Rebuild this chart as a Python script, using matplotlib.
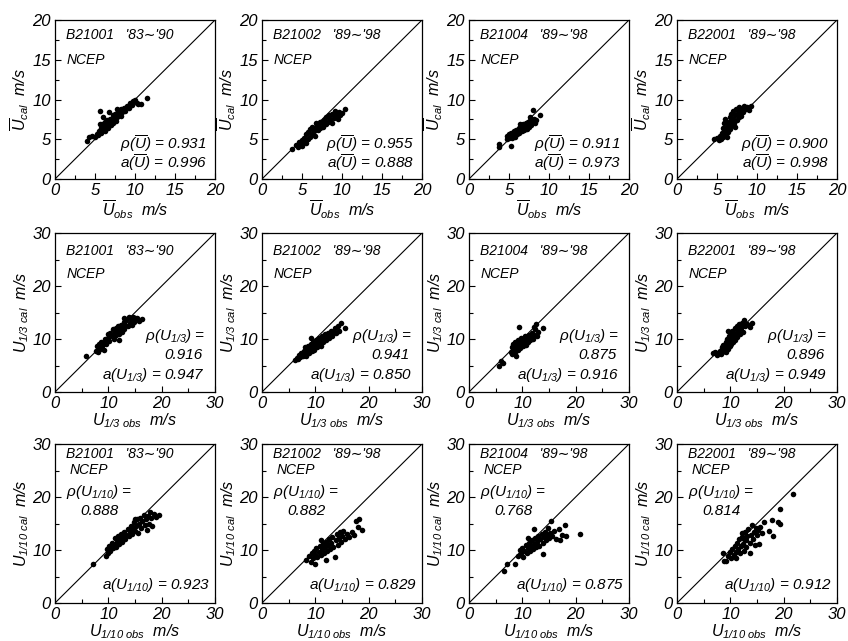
import matplotlib
matplotlib.use("Agg")
import matplotlib.pyplot as plt
from matplotlib.ticker import MultipleLocator

plt.rcParams['font.family'] = ['Liberation Sans', 'DejaVu Sans']
plt.rcParams['font.style'] = 'italic'
plt.rcParams['mathtext.fontset'] = 'custom'
plt.rcParams['mathtext.it'] = 'Liberation Sans:italic'
plt.rcParams['mathtext.rm'] = 'Liberation Sans:italic'
plt.rcParams['mathtext.sf'] = 'Liberation Sans:italic'

# station names and periods (one per column)
stations = ["B21001", "B21002", "B21004", "B22001"]
periods = ["'83\u223c'90", "'89\u223c'98", "'89\u223c'98", "'89\u223c'98"]

# statistics printed in each panel
rho_mean = ["0.931", "0.955", "0.911", "0.900"]
a_mean = ["0.996", "0.888", "0.973", "0.998"]
rho_u13 = ["0.916", "0.941", "0.875", "0.896"]
a_u13 = ["0.947", "0.850", "0.916", "0.949"]
rho_u110 = ["0.888", "0.882", "0.768", "0.814"]
a_u110 = ["0.923", "0.829", "0.875", "0.912"]

# ---- row 1: mean wind speed (obs, cal) ----
mean_b21001_obs = [4.0, 4.3, 4.6, 5.0, 5.2, 5.4, 5.5, 5.7, 5.8, 5.9, 6.0, 6.1, 6.2, 6.3, 6.4, 6.5, 6.6, 6.7,
                   6.8, 6.9, 7.0, 7.1, 7.2, 7.3, 7.4, 7.5, 7.6, 7.8, 7.9, 8.0, 8.2, 8.3, 8.4, 8.6, 8.8, 9.0,
                   9.2, 9.4, 9.6, 9.8, 10.0, 10.2, 10.4, 10.7, 11.5, 6.0, 5.6, 7.7, 5.6]
mean_b21001_cal = [4.8, 5.3, 5.4, 5.3, 5.6, 5.5, 6.0, 5.8, 6.4, 6.9, 6.2, 6.6, 7.2, 6.0, 6.8, 7.4, 6.4, 7.0,
                   8.4, 7.6, 6.8, 7.3, 8.0, 7.0, 7.6, 8.2, 7.3, 7.8, 8.5, 8.0, 8.8, 7.9, 8.4, 8.9, 8.6, 9.2,
                   8.9, 9.5, 9.3, 9.8, 10.0, 9.6, 9.4, 9.4, 10.2, 7.8, 6.9, 8.8, 8.5]

mean_b21002_obs = [3.8, 4.3, 4.5, 4.6, 4.8, 5.0, 5.0, 5.2, 5.3, 5.5, 5.5, 5.7, 5.8, 6.0, 6.0, 6.2, 6.3, 6.5,
                   6.6, 6.7, 6.8, 7.0, 7.0, 7.2, 7.3, 7.5, 7.6, 7.8, 8.0, 8.0, 8.2, 8.4, 8.5, 8.7, 8.8, 9.0,
                   9.1, 9.3, 9.5, 9.6, 9.8, 10.0, 10.4]
mean_b21002_cal = [3.8, 4.3, 4.0, 4.6, 4.4, 4.2, 4.9, 4.6, 5.2, 4.5, 5.6, 5.0, 5.9, 5.3, 6.3, 5.7, 6.6, 6.0,
                   5.4, 6.5, 7.0, 6.2, 6.8, 7.2, 6.4, 7.0, 6.6, 7.4, 6.9, 7.8, 7.2, 8.0, 7.5, 7.1, 8.2, 7.7,
                   8.6, 8.0, 7.6, 8.4, 8.0, 8.3, 8.8]

mean_b21004_obs = [3.7, 3.8, 5.3, 4.7, 4.8, 5.0, 5.0, 5.2, 5.3, 5.4, 5.5, 5.6, 5.7, 5.8, 5.9, 6.0, 6.1, 6.2,
                   6.3, 6.4, 6.5, 6.6, 6.7, 6.8, 6.9, 7.0, 7.1, 7.2, 7.3, 7.4, 7.5, 7.6, 7.7, 7.8, 8.0, 8.1,
                   8.2, 8.4, 8.0, 8.9, 7.6, 6.4]
mean_b21004_cal = [4.0, 4.4, 4.2, 5.0, 5.4, 5.1, 5.6, 5.3, 5.8, 5.1, 5.5, 6.0, 5.3, 5.7, 6.2, 5.6, 6.0, 6.4,
                   5.8, 6.2, 6.6, 6.0, 6.4, 6.9, 6.2, 6.6, 7.0, 6.3, 6.8, 7.2, 6.6, 7.0, 7.4, 6.8, 7.2, 7.6,
                   7.0, 7.4, 8.7, 8.0, 7.8, 6.9]

mean_b22001_obs = [4.6, 5.0, 5.2, 5.4, 5.5, 5.6, 5.7, 5.8, 5.9, 6.0, 6.0, 6.1, 6.2, 6.3, 6.4, 6.5, 6.6, 6.6,
                   6.7, 6.8, 6.9, 7.0, 7.0, 7.1, 7.2, 7.3, 7.4, 7.5, 7.6, 7.7, 7.8, 7.9, 8.0, 8.1, 8.3, 8.4,
                   8.6, 8.8, 9.0, 9.2, 6.3, 5.9]
mean_b22001_cal = [5.0, 5.2, 4.9, 5.4, 5.0, 5.8, 6.4, 5.3, 7.0, 6.0, 7.6, 5.6, 6.6, 7.2, 5.9, 6.9, 7.8, 6.3,
                   7.4, 8.2, 6.8, 7.6, 8.6, 7.0, 8.0, 6.5, 8.8, 7.4, 8.3, 7.8, 9.0, 8.5, 7.9, 8.8, 8.4, 9.2,
                   8.8, 9.1, 8.7, 9.2, 5.3, 6.3]

# ---- row 2: significant wind speed U1/3 (obs, cal) ----
u13_b21001_obs = [5.8, 7.6, 7.8, 8.0, 8.2, 8.4, 8.6, 8.8, 9.0, 9.2, 9.4, 9.5, 9.7, 9.9, 10.0, 10.2, 10.4,
                  10.6, 10.8, 11.0, 11.2, 11.4, 11.5, 11.7, 11.9, 12.0, 12.2, 12.4, 12.5, 12.7, 12.9, 13.0,
                  13.2, 13.4, 13.6, 13.8, 14.0, 14.2, 14.4, 14.6, 14.8, 15.0, 15.4, 15.8, 16.4, 12.0, 13.0]
u13_b21001_cal = [6.8, 7.8, 8.6, 7.5, 9.0, 8.2, 9.5, 8.6, 9.2, 8.0, 10.0, 9.0, 9.6, 11.0, 10.2, 9.6, 11.2,
                  10.5, 11.8, 10.0, 11.3, 12.0, 10.8, 11.6, 12.4, 11.0, 11.9, 12.6, 11.3, 12.2, 13.2, 11.9,
                  12.7, 13.6, 12.4, 14.1, 13.0, 13.7, 12.6, 14.2, 13.3, 13.9, 14.0, 13.4, 13.7, 9.8, 14.0]

u13_b21002_obs = [6.1, 6.5, 6.8, 7.0, 7.2, 7.4, 7.6, 7.8, 8.0, 8.1, 8.3, 8.4, 8.6, 8.8, 9.0, 9.1, 9.3, 9.5,
                  9.6, 9.8, 10.0, 10.1, 10.3, 10.5, 10.6, 10.8, 11.0, 11.2, 11.4, 11.6, 11.8, 12.0, 12.2,
                  12.4, 12.6, 12.8, 13.0, 13.2, 13.4, 13.6, 13.9, 14.2, 14.5, 14.8, 15.6, 9.2, 11.0]
u13_b21002_cal = [6.0, 6.5, 6.2, 7.0, 6.6, 7.4, 6.8, 7.8, 7.2, 8.4, 6.7, 7.8, 8.6, 7.4, 8.2, 9.0, 7.8, 8.6,
                  9.4, 8.0, 9.0, 9.9, 8.5, 9.4, 10.2, 9.0, 9.8, 10.5, 9.4, 10.2, 10.9, 9.8, 10.6, 11.2,
                  10.2, 11.0, 11.6, 10.6, 11.4, 12.0, 11.2, 12.4, 11.6, 13.0, 12.1, 10.2, 8.6]

u13_b21004_obs = [5.7, 6.0, 6.3, 7.8, 8.0, 8.1, 8.2, 8.4, 8.5, 8.6, 8.7, 8.8, 8.9, 9.0, 9.1, 9.2, 9.3, 9.4,
                  9.5, 9.6, 9.7, 9.8, 10.0, 10.1, 10.2, 10.4, 10.5, 10.6, 10.8, 11.0, 11.1, 11.3, 11.5,
                  11.7, 11.9, 12.0, 12.2, 12.4, 12.6, 12.8, 13.0, 13.9, 12.2]
u13_b21004_cal = [5.0, 5.8, 5.4, 7.6, 8.4, 7.2, 9.0, 7.9, 8.6, 9.4, 7.5, 8.2, 6.8, 9.0, 8.0, 9.8, 8.6, 12.3,
                  9.2, 8.3, 10.2, 8.9, 9.6, 8.6, 10.0, 9.2, 10.6, 8.9, 9.8, 10.3, 9.4, 10.8, 9.8, 10.4,
                  11.2, 10.0, 10.8, 11.8, 12.8, 10.6, 11.4, 12.0, 12.3]

u13_b22001_obs = [6.8, 7.2, 7.5, 7.8, 8.0, 8.2, 8.4, 8.5, 8.7, 8.8, 9.0, 9.1, 9.2, 9.3, 9.4, 9.5, 9.6, 9.8,
                  9.9, 10.0, 10.1, 10.2, 10.3, 10.4, 10.5, 10.6, 10.8, 10.9, 11.0, 11.2, 11.3, 11.5, 11.7,
                  11.8, 12.0, 12.2, 12.4, 12.6, 12.8, 13.2, 13.6, 14.1, 9.6]
u13_b22001_cal = [7.3, 7.6, 7.0, 7.4, 7.8, 7.2, 8.4, 7.6, 8.9, 7.8, 8.4, 9.4, 7.6, 8.8, 10.0, 8.2, 9.2, 10.6,
                  8.6, 9.8, 11.2, 9.0, 10.3, 11.6, 9.4, 10.8, 12.0, 9.8, 11.2, 12.4, 10.4, 11.6, 12.8,
                  10.9, 12.0, 13.0, 11.4, 13.6, 12.4, 12.8, 12.3, 13.0, 11.6]

# ---- row 3: highest one-tenth wind speed U1/10 (obs, cal) ----
u110_b21001_obs = [7.1, 9.6, 9.8, 10.0, 10.2, 10.4, 10.6, 10.8, 11.0, 11.2, 11.4, 11.6, 11.8, 12.0, 12.2,
                   12.4, 12.6, 12.8, 13.0, 13.2, 13.4, 13.6, 13.8, 14.0, 14.2, 14.4, 14.6, 14.8, 15.0, 15.2,
                   15.4, 15.6, 15.8, 16.0, 16.2, 16.4, 16.6, 16.8, 17.0, 17.2, 17.4, 17.6, 17.8, 18.0, 18.2,
                   18.6, 19.0, 19.5, 15.0]
u110_b21001_cal = [7.4, 8.9, 10.2, 9.4, 10.8, 9.8, 11.4, 10.4, 11.0, 12.2, 10.6, 11.6, 12.6, 11.2, 12.0,
                   13.0, 11.6, 12.4, 13.4, 12.0, 12.8, 14.0, 12.6, 13.4, 14.6, 13.0, 14.0, 15.2, 13.6, 14.6,
                   15.8, 13.2, 15.0, 16.0, 14.2, 15.4, 16.6, 14.8, 15.8, 13.8, 16.4, 15.0, 17.2, 16.0, 14.6,
                   16.8, 16.2, 16.6, 15.8]

u110_b21002_obs = [8.2, 8.8, 9.2, 9.4, 9.6, 9.8, 10.0, 10.0, 10.2, 10.4, 10.6, 10.8, 11.0, 11.2, 11.4, 11.6,
                   11.8, 12.0, 12.2, 12.4, 12.6, 12.8, 13.0, 13.2, 13.4, 13.6, 13.8, 14.0, 14.2, 14.4, 14.6,
                   14.8, 15.0, 15.2, 15.6, 16.0, 16.4, 16.8, 17.2, 17.6, 18.0, 18.2, 18.8, 12.0, 11.0]
u110_b21002_cal = [8.2, 8.8, 7.8, 9.4, 8.4, 9.8, 7.4, 9.0, 10.4, 8.6, 9.6, 10.8, 9.0, 10.2, 11.2, 9.4,
                   10.6, 11.6, 9.8, 11.0, 12.0, 10.2, 11.4, 12.4, 10.6, 8.7, 11.8, 13.0, 11.0, 12.2, 13.4,
                   11.6, 12.6, 13.6, 12.0, 13.0, 12.4, 13.4, 12.8, 15.4, 14.4, 15.8, 13.8, 8.2, 11.8]

u110_b21004_obs = [6.6, 7.2, 8.6, 9.2, 9.5, 9.8, 10.0, 10.2, 10.4, 10.6, 10.8, 11.0, 11.0, 11.2, 11.4, 11.6,
                   11.8, 12.0, 12.2, 12.2, 12.4, 12.6, 12.8, 13.0, 13.2, 13.4, 13.6, 13.8, 13.9, 14.0, 14.2,
                   14.4, 14.6, 14.8, 15.0, 15.2, 15.4, 15.6, 16.0, 16.4, 16.8, 17.4, 18.0, 18.1, 20.9, 17.0]
u110_b21004_cal = [6.1, 7.3, 7.4, 8.9, 10.0, 9.4, 10.4, 8.6, 9.8, 11.0, 9.4, 10.4, 12.2, 11.4, 9.8, 10.8,
                   11.8, 10.2, 11.2, 13.9, 12.2, 10.6, 11.6, 12.6, 10.8, 12.0, 13.0, 9.2, 11.4, 12.4, 13.4,
                   11.8, 12.8, 14.2, 12.2, 13.2, 15.4, 12.6, 13.6, 12.0, 14.0, 12.8, 14.8, 12.6, 13.0, 11.8]

u110_b22001_obs = [8.6, 8.8, 9.2, 9.6, 10.0, 10.2, 10.4, 10.6, 10.8, 11.0, 11.0, 11.2, 11.4, 11.6, 11.8,
                   12.0, 12.1, 12.2, 12.4, 12.6, 12.6, 12.8, 13.0, 13.0, 13.2, 13.4, 13.6, 13.6, 13.8, 14.0,
                   14.2, 14.4, 14.6, 14.8, 15.0, 15.2, 15.3, 15.6, 16.0, 16.4, 17.3, 17.9, 18.0, 18.9, 19.3,
                   19.3, 21.7]
u110_b22001_cal = [9.4, 8.0, 7.9, 8.8, 9.6, 8.4, 10.2, 9.0, 10.8, 8.4, 9.6, 11.4, 10.2, 12.0, 9.4, 10.8,
                   12.4, 13.2, 11.2, 9.8, 12.0, 13.4, 10.6, 11.8, 12.6, 14.0, 9.5, 11.4, 12.8, 14.8, 12.0,
                   13.4, 11.0, 14.2, 12.8, 13.8, 11.2, 14.4, 13.2, 15.2, 13.6, 15.7, 12.7, 15.2, 14.9, 17.7,
                   20.6]

rows = [
    dict(obs=[mean_b21001_obs, mean_b21002_obs, mean_b21004_obs, mean_b22001_obs],
         cal=[mean_b21001_cal, mean_b21002_cal, mean_b21004_cal, mean_b22001_cal],
         lim=20, major=5, minor=2.5,
         ylabel=r"$\overline{U}_{cal}$  m/s", xlabel=r"$\overline{U}_{obs}$  m/s"),
    dict(obs=[u13_b21001_obs, u13_b21002_obs, u13_b21004_obs, u13_b22001_obs],
         cal=[u13_b21001_cal, u13_b21002_cal, u13_b21004_cal, u13_b22001_cal],
         lim=30, major=10, minor=5,
         ylabel=r"$U_{1/3\ cal}$  m/s", xlabel=r"$U_{1/3\ obs}$  m/s"),
    dict(obs=[u110_b21001_obs, u110_b21002_obs, u110_b21004_obs, u110_b22001_obs],
         cal=[u110_b21001_cal, u110_b21002_cal, u110_b21004_cal, u110_b22001_cal],
         lim=30, major=10, minor=5,
         ylabel=r"$U_{1/10\ cal}$  m/s", xlabel=r"$U_{1/10\ obs}$  m/s"),
]

W, H = 848, 641
fig = plt.figure(figsize=(W / 100, H / 100), dpi=100)

lefts = [55, 262, 469, 677]
tops = [20, 233, 444]
pw, ph = 160, 159

for r, row in enumerate(rows):
    for c in range(4):
        ax = fig.add_axes([lefts[c] / W, 1 - (tops[r] + ph) / H, pw / W, ph / H])
        lim = row['lim']
        ax.scatter(row['obs'][c], row['cal'][c], s=16, color='black', linewidths=0, zorder=3)
        ax.plot([0, lim], [0, lim], color='black', lw=0.8)
        ax.set_xlim(0, lim)
        ax.set_ylim(0, lim)
        ax.xaxis.set_major_locator(MultipleLocator(row['major']))
        ax.yaxis.set_major_locator(MultipleLocator(row['major']))
        ax.xaxis.set_minor_locator(MultipleLocator(row['minor']))
        ax.yaxis.set_minor_locator(MultipleLocator(row['minor']))
        ax.tick_params(which='both', direction='in', top=False, right=False,
                       labelsize=12, pad=3, width=0.8)
        ax.tick_params(which='major', length=4)
        ax.tick_params(which='minor', length=3)
        for sp in ax.spines.values():
            sp.set_linewidth(0.9)
        ax.set_ylabel(row['ylabel'], fontsize=11.5, labelpad=1)
        ax.set_xlabel(row['xlabel'], fontsize=11.5, labelpad=0)

        header = stations[c] + "   " + periods[c]
        tr = ax.transAxes
        if r == 0:
            ax.text(0.07, 0.905, header, transform=tr, fontsize=10, va='center')
            ax.text(0.07, 0.75, "NCEP", transform=tr, fontsize=10, va='center')
            ax.text(0.95, 0.22, r"$\rho(\overline{U})$ = " + rho_mean[c], transform=tr,
                    fontsize=11, ha='right', va='center')
            ax.text(0.95, 0.10, r"a$(\overline{U})$ = " + a_mean[c], transform=tr,
                    fontsize=11, ha='right', va='center')
        elif r == 1:
            ax.text(0.07, 0.885, header, transform=tr, fontsize=10, va='center')
            ax.text(0.07, 0.74, "NCEP", transform=tr, fontsize=10, va='center')
            ax.text(0.94, 0.35, r"$\rho(U_{1/3})$ =", transform=tr,
                    fontsize=11, ha='right', va='center')
            ax.text(0.92, 0.23, rho_u13[c], transform=tr, fontsize=11, ha='right', va='center')
            ax.text(0.94, 0.11, r"a$(U_{1/3})$ = " + a_u13[c], transform=tr,
                    fontsize=11, ha='right', va='center')
        else:
            ax.text(0.07, 0.94, header, transform=tr, fontsize=10, va='center')
            ax.text(0.09, 0.835, "NCEP", transform=tr, fontsize=10, va='center')
            ax.text(0.07, 0.70, r"$\rho(U_{1/10})$ =", transform=tr,
                    fontsize=11, ha='left', va='center')
            ax.text(0.16, 0.58, rho_u110[c], transform=tr, fontsize=11, ha='left', va='center')
            ax.text(0.97, 0.115, r"a$(U_{1/10})$ = " + a_u110[c], transform=tr,
                    fontsize=11, ha='right', va='center')

fig.savefig("out.png", dpi=100)
